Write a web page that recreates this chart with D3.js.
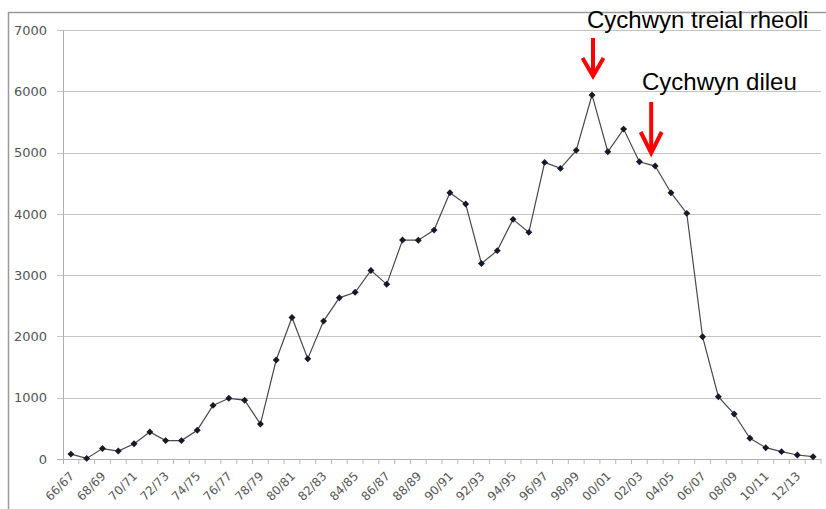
<!DOCTYPE html>
<html>
  <head>
    <meta charset="utf-8">
    <title>Cychwyn treial rheoli</title>
    <script src="https://cdn.jsdelivr.net/npm/d3@7"></script>
    <style>
      body { margin: 0; background: #fff; }
      #chart { display: block; }
      .grid line { stroke: #c4c4c4; stroke-width: 1; }
      .axis-label { font-family: "DejaVu Sans", sans-serif; fill: #555; }
      .note { font-family: "Liberation Sans", Arial, sans-serif; font-size: 24px; fill: #000; }
      .arrow { fill: none; stroke: #ff0000; stroke-width: 4; }
    </style>
  </head>
  <body>
    <svg id="chart" width="826" height="509"></svg>
    <script>
      // financial years 66/67 .. 13/14
      const years = [
        "66/67","67/68","68/69","69/70","70/71","71/72","72/73","73/74","74/75","75/76",
        "76/77","77/78","78/79","79/80","80/81","81/82","82/83","83/84","84/85","85/86",
        "86/87","87/88","88/89","89/90","90/91","91/92","92/93","93/94","94/95","95/96",
        "96/97","97/98","98/99","99/00","00/01","01/02","02/03","03/04","04/05","05/06",
        "06/07","07/08","08/09","09/10","10/11","11/12","12/13","13/14"
      ];
      const counts = [
        80, 10, 170, 130, 250, 440, 300, 300, 470, 875,
        990, 960, 570, 1615, 2310, 1636, 2250, 2630, 2720, 3077,
        2850, 3572, 3570, 3735, 4345, 4160, 3190, 3400, 3910, 3698,
        4840, 4742, 5036, 5940, 5013, 5383, 4850, 4780, 4345, 4008,
        1995, 1016, 734, 338, 185, 120, 65, 38
      ];
      const yTicks = [0, 1000, 2000, 3000, 4000, 5000, 6000, 7000];
      const notes = [
        { text: "Cychwyn treial rheoli", year: "99/00" },
        { text: "Cychwyn dileu", year: "03/04" }
      ];

      const svg = d3.select("#chart");
      const plotL = 63, plotR = 821, plotT = 30, plotB = 459;

      // outer chart frame
      svg.append("rect")
        .attr("x", 8.5).attr("y", 12.5)
        .attr("width", 840).attr("height", 520)
        .attr("fill", "none").attr("stroke", "#9a9a9a").attr("stroke-width", 1.5);

      const x = d3.scalePoint().domain(years).range([plotL, plotR]).padding(0.5);
      const y = d3.scaleLinear().domain([0, 7000]).range([plotB, plotT]);
      const step = x.step();

      // horizontal gridlines + outward ticks
      svg.append("g").attr("class", "grid")
        .selectAll("line").data(yTicks.filter(d => d > 0)).join("line")
        .attr("x1", plotL - 6).attr("x2", plotR)
        .attr("y1", d => Math.round(y(d)) + 0.5).attr("y2", d => Math.round(y(d)) + 0.5);

      svg.append("g").selectAll("text").data(yTicks).join("text")
        .attr("class", "axis-label")
        .attr("x", 47).attr("y", d => y(d)).attr("dy", "0.36em")
        .attr("text-anchor", "end").attr("font-size", 13)
        .text(d => d);

      // axes
      svg.append("line")
        .attr("x1", plotL + 0.5).attr("x2", plotL + 0.5)
        .attr("y1", plotT).attr("y2", plotB + 5)
        .attr("stroke", "#b0b0b0");
      svg.append("line")
        .attr("x1", plotL - 6).attr("x2", plotR)
        .attr("y1", plotB + 0.5).attr("y2", plotB + 0.5)
        .attr("stroke", "#b0b0b0");

      // category boundary ticks
      svg.append("g").selectAll("line").data(years).join("line")
        .attr("x1", d => x(d) + step / 2).attr("x2", d => x(d) + step / 2)
        .attr("y1", plotB).attr("y2", plotB + 5)
        .attr("stroke", "#b8b8b8");

      // every other year label, rotated
      svg.append("g").selectAll("text").data(years.filter((d, i) => i % 2 === 0)).join("text")
        .attr("class", "axis-label")
        .attr("font-size", 12)
        .attr("text-anchor", "end")
        .attr("transform", d => `translate(${x(d) - 2},${plotB + 12}) rotate(-45)`)
        .attr("dy", "0.7em")
        .text(d => d);

      // the series
      const line = d3.line()
        .x((d, i) => x(years[i]))
        .y(d => y(d));

      svg.append("path")
        .datum(counts)
        .attr("d", line)
        .attr("fill", "none")
        .attr("stroke", "#4a4a4a")
        .attr("stroke-width", 1.2);

      svg.append("g").selectAll("path").data(counts).join("path")
        .attr("d", d3.symbol(d3.symbolSquare, 24))
        .attr("transform", (d, i) => `translate(${x(years[i])},${y(d)}) rotate(45)`)
        .attr("fill", "#141a2a");

      // annotations with red arrows
      const note1 = notes[0], note2 = notes[1];
      const ax1 = x(note1.year) + 1, ax2 = x(note2.year) - 4;

      svg.append("text").attr("class", "note")
        .attr("x", 587).attr("y", 28).text(note1.text);
      svg.append("text").attr("class", "note")
        .attr("x", 642).attr("y", 90).text(note2.text);

      function arrow(cx, y0, y1, head) {
        svg.append("path").attr("class", "arrow")
          .attr("d", `M${cx},${y0} L${cx},${y1 - 2}`);
        svg.append("path").attr("class", "arrow")
          .attr("stroke-linejoin", "miter")
          .attr("d", `M${cx - 10.5},${y1 - head} L${cx},${y1} L${cx + 10.5},${y1 - head}`);
      }
      arrow(ax1, 38, 76, 18);
      arrow(ax2, 102, 153, 21);
    </script>
  </body>
</html>
